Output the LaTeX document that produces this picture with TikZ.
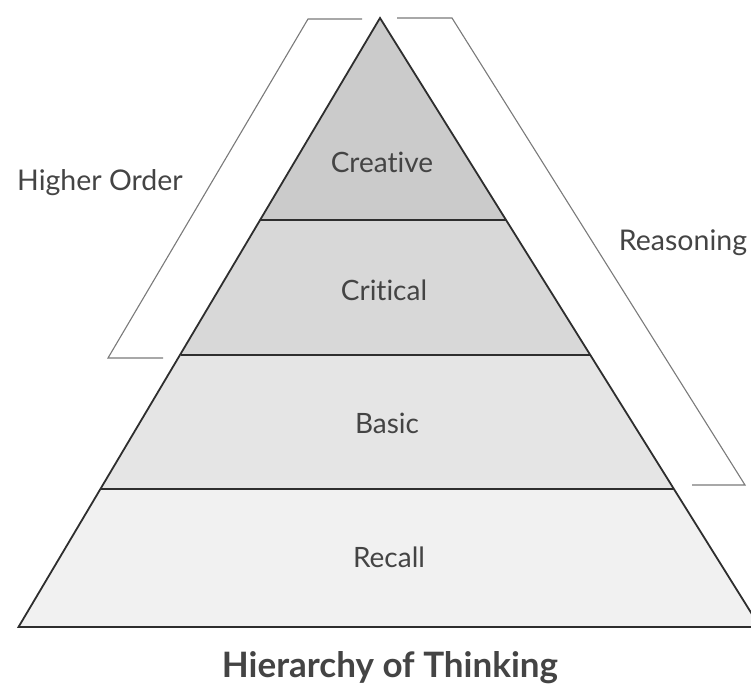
\documentclass[tikz,border=0pt]{standalone}
\usepackage{fontspec}
\setmainfont{Lato}[Ligatures={NoCommon}]
\usetikzlibrary{calc}
\definecolor{inkline}{HTML}{2E2E2E}
\definecolor{bracketline}{HTML}{7A7A7A}
\definecolor{labeltext}{HTML}{444444}
\definecolor{tierA}{HTML}{CBCBCB}
\definecolor{tierB}{HTML}{D8D8D8}
\definecolor{tierC}{HTML}{E5E5E5}
\definecolor{tierD}{HTML}{F1F1F1}
\tikzset{
  tier/.style={draw=inkline, line width=1.8pt, line join=miter},
  brace/.style={draw=bracketline, line width=1.1pt},
  tierlabel/.style={text=labeltext, font=\fontsize{28}{32}\selectfont, inner sep=0pt},
  sidelabel/.style={text=labeltext, font=\fontsize{28.5}{32}\selectfont, inner sep=0pt},
  titlelabel/.style={text=labeltext, font=\fontsize{35}{40}\selectfont\bfseries, inner sep=0pt},
}
\begin{document}
\begin{tikzpicture}[x=1pt, y=-1pt]
  \useasboundingbox (0,0) rectangle (751,684);
  \begin{scope}
    \clip (0,0) rectangle (751,684);
    % pyramid corners and tier boundaries
    \coordinate (apex) at (380,18);
    \coordinate (l1) at (260.4,220);  \coordinate (r1) at (506.3,220);
    \coordinate (l2) at (180.5,355);  \coordinate (r2) at (590.6,355);
    \coordinate (l3) at (101.2,489);  \coordinate (r3) at (674.4,489);
    \coordinate (l4) at (18.5,627);   \coordinate (r4) at (760,627);
    % tiers, darkest at the top
    \path[fill=tierA] (apex) -- (r1) -- (l1) -- cycle;
    \path[fill=tierB] (l1) -- (r1) -- (r2) -- (l2) -- cycle;
    \path[fill=tierC] (l2) -- (r2) -- (r3) -- (l3) -- cycle;
    \path[fill=tierD] (l3) -- (r3) -- (r4) -- (l4) -- cycle;
    \draw[tier] (apex) -- (r4) -- (l4) -- cycle;
    \draw[tier] (l1) -- (r1);
    \draw[tier] (l2) -- (r2);
    \draw[tier] (l3) -- (r3);
  \end{scope}
  % tier labels
  \node[tierlabel] (creative) at (382,162) {Creative};
  \node[tierlabel] (critical) at (384,290) {Critical};
  \node[tierlabel] (basic) at (387,423) {Basic};
  \node[tierlabel] (recall) at (389,557) {Recall};
  % brackets grouping the tiers
  \coordinate (hoA) at (362,19);  \coordinate (hoB) at (308,19);
  \coordinate (hoC) at (108,358); \coordinate (hoD) at (163,358);
  \draw[brace] (hoA) -- (hoB) -- (hoC) -- (hoD);
  \coordinate (reA) at (397,18);  \coordinate (reB) at (452,18);
  \coordinate (reC) at (745,485); \coordinate (reD) at (692,485);
  \draw[brace] (reA) -- (reB) -- (reC) -- (reD);
  \node[sidelabel] (higher) at (100,183) {Higher Order};
  \node[sidelabel] (reasoning) at (683,243) {Reasoning};
  % caption
  \node[titlelabel] (title) at (390,668) {Hierarchy of Thinking};
\end{tikzpicture}
\end{document}
